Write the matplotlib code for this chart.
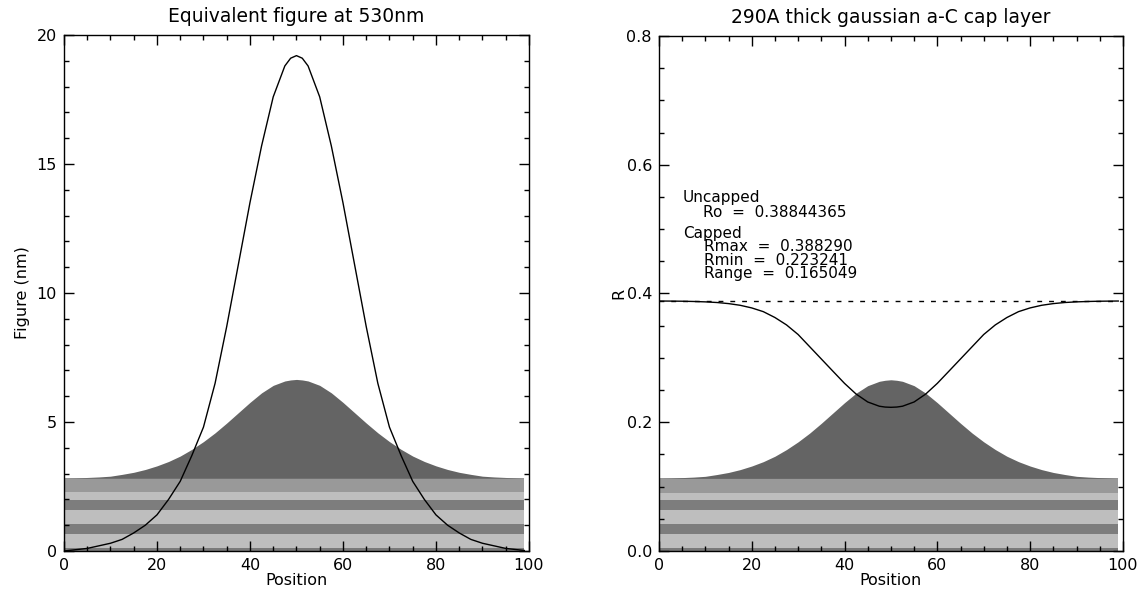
#!/usr/bin/env python
# Equivalent figure / reflectance of a gaussian a-C cap layer on a multilayer

import numpy as np
from matplotlib import pyplot as plt

pos = [0, 2.5, 5, 7.5, 10, 12.5, 15, 17.5, 20, 22.5, 25, 27.5, 30, 32.5, 35,
       37.5, 40, 42.5, 45, 47.5, 48.75, 50, 51.25, 52.5, 55, 57.5, 60, 62.5,
       65, 67.5, 70, 72.5, 75, 77.5, 80, 82.5, 85, 87.5, 90, 92.5, 95, 97.5,
       99]

# equivalent figure (nm)
figure_nm = [0.0, 0.05, 0.1, 0.2, 0.3, 0.45, 0.7, 1.0, 1.4, 2.0, 2.7, 3.7, 4.8,
             6.5, 8.7, 11.1, 13.5, 15.7, 17.6, 18.8, 19.1, 19.2, 19.1, 18.8,
             17.6, 15.7, 13.5, 11.1, 8.7, 6.5, 4.8, 3.7, 2.7, 2.0, 1.4, 1.0,
             0.7, 0.45, 0.3, 0.2, 0.1, 0.05, 0.02]

# top surface of the cap layer, left panel units
cap_left = [2.82, 2.83, 2.85, 2.87, 2.90, 2.97, 3.05, 3.16, 3.30, 3.47, 3.68,
            3.94, 4.24, 4.58, 4.96, 5.36, 5.76, 6.13, 6.42, 6.59, 6.63, 6.65,
            6.63, 6.59, 6.42, 6.13, 5.76, 5.36, 4.96, 4.58, 4.24, 3.94, 3.68,
            3.47, 3.30, 3.16, 3.05, 2.97, 2.90, 2.87, 2.85, 2.83, 2.82]

# reflectance of capped stack
refl = [0.3883, 0.3882, 0.3880, 0.3876, 0.3870, 0.3860, 0.3843, 0.3817,
        0.3776, 0.3718, 0.3627, 0.3512, 0.3363, 0.3173, 0.2983, 0.2793,
        0.2604, 0.2438, 0.2315, 0.2249, 0.2236, 0.2232, 0.2236, 0.2249,
        0.2315, 0.2438, 0.2604, 0.2793, 0.2983, 0.3173, 0.3363, 0.3512,
        0.3627, 0.3718, 0.3776, 0.3817, 0.3843, 0.3860, 0.3870, 0.3876,
        0.3880, 0.3882, 0.3883]

# top surface of the cap layer, right panel units
cap_right = [0.1128, 0.1132, 0.1140, 0.1148, 0.1160, 0.1188, 0.1220, 0.1264,
             0.1320, 0.1388, 0.1472, 0.1576, 0.1696, 0.1832, 0.1984, 0.2144,
             0.2304, 0.2452, 0.2568, 0.2636, 0.2652, 0.2660, 0.2652, 0.2636,
             0.2568, 0.2452, 0.2304, 0.2144, 0.1984, 0.1832, 0.1696, 0.1576,
             0.1472, 0.1388, 0.1320, 0.1264, 0.1220, 0.1188, 0.1160, 0.1148,
             0.1140, 0.1132, 0.1128]

# multilayer stack boundaries (bottom to top) and layer greys
stack_left = [0.0, 0.13, 0.67, 1.06, 1.60, 1.99, 2.27, 2.82]
stack_right = [0.0, 0.0052, 0.0268, 0.0424, 0.0640, 0.0796, 0.0908, 0.1128]
layer_colors = ['#7a7a7a', '#bebebe', '#7d7d7d', '#bebebe', '#7d7d7d',
                '#bebebe', '#999999']
cap_color = '#646464'

R_uncapped = 0.38844365
R_max = 0.388290
R_min = 0.223241
R_range = 0.165049

stack_x = [0, 99]


def draw_stack(ax, bounds):
    for i, col in enumerate(layer_colors):
        ax.fill_between(stack_x, bounds[i], bounds[i + 1], color=col, lw=0)


def idl_axes(ax, xmaj, xmin, ymaj, ymin):
    ax.set_xticks(xmaj)
    ax.set_xticks(xmin, minor=True)
    ax.set_yticks(ymaj)
    ax.set_yticks(ymin, minor=True)
    ax.tick_params(which='both', direction='in', top=True, right=True,
                   labelsize=11.5, width=1)
    ax.tick_params(which='major', length=7, pad=5)
    ax.tick_params(which='minor', length=3.6)
    for s in ax.spines.values():
        s.set_linewidth(1)


def main():
    plt.rcParams['font.family'] = 'DejaVu Sans'
    fig = plt.figure(figsize=(11.4, 5.9), dpi=100)

    # left panel
    ax1 = fig.add_axes([0.0561, 0.0661, 0.4079, 0.8746])
    draw_stack(ax1, stack_left)
    ax1.fill_between(pos, stack_left[-1], cap_left, color=cap_color, lw=0)
    ax1.plot(pos, figure_nm, color='black', lw=1)
    ax1.set_xlim(0, 100)
    ax1.set_ylim(0, 20)
    idl_axes(ax1, np.arange(0, 101, 20), np.arange(0, 101, 5),
             np.arange(0, 21, 5), np.arange(0, 21, 1))
    ax1.set_title('Equivalent figure at 530nm', fontsize=13.5, pad=9)
    ax1.set_xlabel('Position', fontsize=11.5, labelpad=0)
    ax1.set_ylabel('Figure (nm)', fontsize=11.5, labelpad=5)

    # right panel
    ax2 = fig.add_axes([0.578, 0.0661, 0.4070, 0.8729])
    draw_stack(ax2, stack_right)
    ax2.fill_between(pos, stack_right[-1], cap_right, color=cap_color, lw=0)
    ax2.plot(pos, refl, color='black', lw=1)
    ax2.axhline(R_uncapped, color='black', lw=1, ls=(0, (3.5, 5)))
    ax2.set_xlim(0, 100)
    ax2.set_ylim(0, 0.8)
    idl_axes(ax2, np.arange(0, 101, 20), np.arange(0, 101, 5),
             np.arange(0, 0.81, 0.2), np.arange(0, 0.81, 0.05))
    ax2.yaxis.set_major_formatter(plt.FormatStrFormatter('%.1f'))
    ax2.set_title('290A thick gaussian a-C cap layer', fontsize=13.5, pad=9)
    ax2.set_xlabel('Position', fontsize=11.5, labelpad=0)
    ax2.set_ylabel('R', fontsize=11.5, labelpad=0)

    tk = dict(fontsize=11, va='baseline', ha='left')
    ax2.text(5.2, 0.5420, 'Uncapped', **tk)
    ax2.text(9.5, 0.5186, 'Ro  =  {:.8f}'.format(R_uncapped), **tk)
    ax2.text(5.2, 0.4860, 'Capped', **tk)
    ax2.text(9.8, 0.4660, 'Rmax  =  {:.6f}'.format(R_max), **tk)
    ax2.text(9.8, 0.4450, 'Rmin  =  {:.6f}'.format(R_min), **tk)
    ax2.text(9.8, 0.4239, 'Range  =  {:.6f}'.format(R_range), **tk)

    fig.savefig('out.png', dpi=100)


if __name__ == "__main__":
    main()
